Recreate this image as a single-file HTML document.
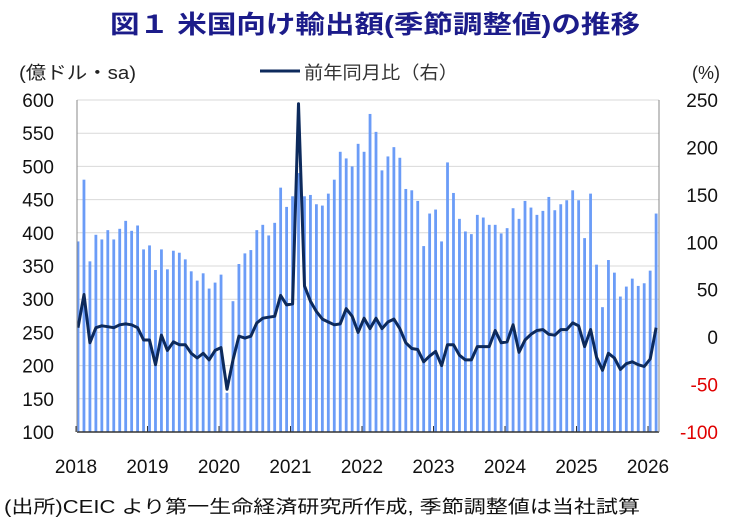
<!DOCTYPE html>
<html><head><meta charset="utf-8"><style>
body{margin:0;background:#fff;}
svg{display:block;font-family:"Liberation Sans","Noto Sans CJK JP",sans-serif;}
</style></head><body>
<svg id="c" width="731" height="520" xmlns="http://www.w3.org/2000/svg">
<rect width="731" height="520" fill="#fff"/>
<text x="110" y="33" font-size="25" font-weight="bold" fill="#1c1c8a" textLength="530" lengthAdjust="spacingAndGlyphs">図１ 米国向け輸出額(季節調整値)の推移</text>
<text x="19" y="79" font-size="18" fill="#222" textLength="117" lengthAdjust="spacingAndGlyphs">(億ドル・sa)</text>
<line x1="260" y1="71" x2="300" y2="71" stroke="#0d2a5c" stroke-width="3"/>
<text x="304" y="79" font-size="18" fill="#333" textLength="154" lengthAdjust="spacingAndGlyphs">前年同月比（右）</text>
<text x="692" y="79" font-size="18" fill="#222">(%)</text>
<text x="4" y="513" font-size="18" fill="#111" textLength="636" lengthAdjust="spacingAndGlyphs">(出所)CEIC より第一生命経済研究所作成, 季節調整値は当社試算</text>
<g id="g"></g>
</svg>
<script>
var bars=[387,480,357,397,390,404,390,406,418,403,411,375,381,344,375,345,373,370,360,342,328,339,316,325,337,159,297,353,369,374,404,412,396,415,468,439,455,490,455,457,443,441,459,480,522,512,500,534,522,579,552,494,515,529,513,466,464,448,380,429,435,387,506,460,421,402,398,427,423,412,412,399,407,437,421,448,438,427,433,454,434,443,449,464,449,392,459,352,288,359,340,304,319,331,320,324,343,429];
var line=[10,45,-6,10,12,11,10,13,14,13,10,-3,-3,-29,2,-14,-5,-8,-8,-17,-22,-17,-24,-14,-11,-55,-24,1,-1,1,15,20,21,22,44,34,35,246,54,38,27,19,16,13,14,30,22,5,20,9,20,9,16,19,9,-6,-12,-13,-26,-20,-15,-30,-8,-8,-19,-24,-24,-10,-10,-10,7,-6,-5,13,-16,-3,3,7,8,3,2,8,8,15,12,-10,8,-21,-35,-17,-22,-34,-28,-26,-29,-31,-23,10];
var L=77,R=659,T=100,B=432,s='';
function yl(v){return B-(v-100)*(B-T)/500;}
function yr(p){return B-(p+100)*(B-T)/350;}
for(var v=100;v<=600;v+=50){var y=yl(v);s+='<line x1="'+L+'" x2="'+R+'" y1="'+y+'" y2="'+y+'" stroke="#d9d9d9" stroke-width="1"/>';
s+='<text x="54" y="'+(y+7)+'" text-anchor="end" font-size="19" fill="#111">'+v+'</text>';}
for(var p=-100;p<=250;p+=50){var y=yr(p);s+='<text x="718" y="'+(y+7)+'" text-anchor="end" font-size="19" fill="'+(p<0?'#e00000':'#111')+'">'+p+'</text>';}
for(var i=0;i<bars.length;i++){var x=78+5.96*i;var y=yl(bars[i]);s+='<rect x="'+(x-1.4)+'" y="'+y+'" width="2.8" height="'+(B-y)+'" fill="#6b9cf7"/>';}
var pts=[];for(var i=0;i<line.length;i++){pts.push((78+5.96*i).toFixed(1)+','+yr(line[i]).toFixed(1));}
s+='<polyline points="'+pts.join(' ')+'" fill="none" stroke="#0d2a5c" stroke-width="3" stroke-linejoin="round"/>';
s+='<line x1="'+L+'" x2="'+R+'" y1="'+B+'" y2="'+B+'" stroke="#333" stroke-width="1.5"/>';
s+='<line x1="'+R+'" x2="'+R+'" y1="'+T+'" y2="'+B+'" stroke="#888" stroke-width="1"/>';
s+='<line x1="'+L+'" x2="'+L+'" y1="'+T+'" y2="'+B+'" stroke="#888" stroke-width="1"/>';
for(var k=0;k<=8;k++){var x=76+71.5*k;s+='<line x1="'+x+'" x2="'+x+'" y1="'+B+'" y2="'+(B-6)+'" stroke="#333"/>';
s+='<text x="'+x+'" y="473" text-anchor="middle" font-size="19" fill="#111">'+(2018+k)+'</text>';}
document.getElementById('g').innerHTML=s;
</script>
</body></html>
